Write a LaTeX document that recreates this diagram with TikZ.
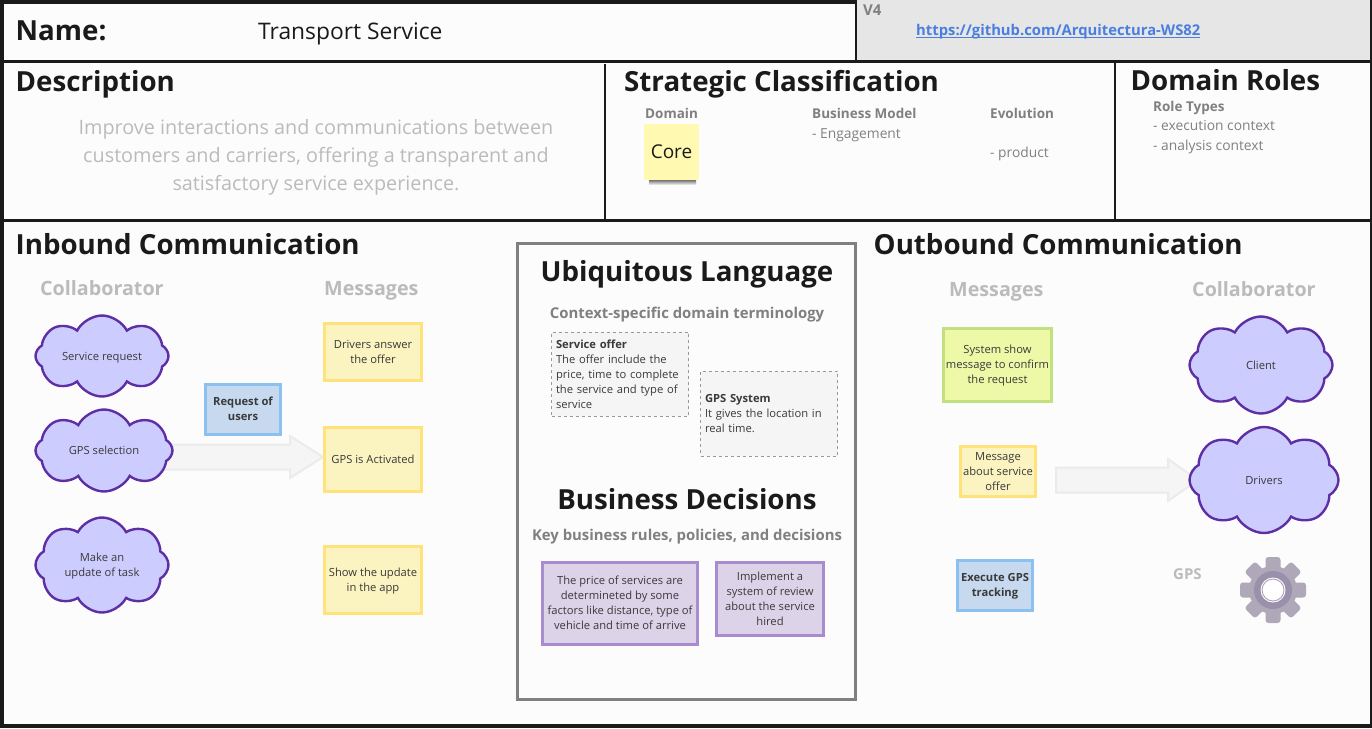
\documentclass[tikz,border=0pt]{standalone}
\usepackage{fontspec}
\setmainfont{Open Sans}
\usetikzlibrary{calc,shapes.symbols,backgrounds}
\definecolor{paper}{HTML}{FCFCFC}
\definecolor{ink}{HTML}{1A1A1A}
\definecolor{band}{HTML}{E6E6E6}
\definecolor{midgrey}{HTML}{808080}
\definecolor{softgrey}{HTML}{BBBBBB}
\definecolor{bodyink}{HTML}{3A3A3A}
\definecolor{cloudfill}{HTML}{CCCCFF}
\definecolor{cloudline}{HTML}{5E2EA5}
\definecolor{yellowfill}{HTML}{FBF3C0}
\definecolor{yellowline}{HTML}{FFE27A}
\definecolor{bluefill}{HTML}{C6D9EE}
\definecolor{blueline}{HTML}{8CC0EE}
\definecolor{greenfill}{HTML}{EEF9A8}
\definecolor{greenline}{HTML}{C3E07F}
\definecolor{violetfill}{HTML}{DDD3E8}
\definecolor{violetline}{HTML}{A98BD0}
\definecolor{notefill}{HTML}{F5F5F5}
\definecolor{noteline}{HTML}{999999}
\definecolor{stickycore}{HTML}{FFF9B1}
\definecolor{linkblue}{HTML}{4A7FE0}
\definecolor{arrowfill}{HTML}{F5F5F5}
\definecolor{arrowline}{HTML}{EBEBEB}
\definecolor{gearbody}{HTML}{AEA8B8}
\definecolor{gearring}{HTML}{9A90AB}
\newcommand{\up}{\rule{0pt}{11pt}}
\tikzset{
  title/.style={anchor=base west,inner sep=0pt,text=ink,font=\fontsize{27.7}{32}\selectfont\bfseries},
  titlemid/.style={title,anchor=base},
  subtitle/.style={anchor=base,inner sep=0pt,text=midgrey,font=\fontsize{14.9}{20}\selectfont\bfseries},
  column/.style={anchor=base west,inner sep=0pt,text=softgrey,font=\fontsize{19.7}{25}\selectfont\bfseries},
  small/.style={anchor=base west,inner sep=0pt,text=midgrey,font=\fontsize{13.5}{18}\selectfont\bfseries},
  plain/.style={anchor=base west,inner sep=0pt,text=midgrey,font=\fontsize{13.8}{18}\selectfont},
  evenlines/.style={execute at end node={\rule[-3pt]{0pt}{3pt}}},
  bubble/.style={cloud,cloud puffs=8,cloud puff arc=125,cloud ignores aspect,draw=cloudline,fill=cloudfill,line width=2.4pt,
    inner sep=0pt,text=bodyink,align=center,font=\fontsize{11.2}{15}\selectfont,evenlines},
  card/.style={rectangle,line width=3pt,inner sep=0pt,text=bodyink,align=center,font=\fontsize{11.2}{15}\selectfont,evenlines},
  msg/.style={card,draw=yellowline,fill=yellowfill},
  cmd/.style={card,draw=blueline,fill=bluefill,font=\fontsize{11.2}{15}\selectfont\bfseries},
  ok/.style={card,draw=greenline,fill=greenfill},
  rule/.style={card,draw=violetline,fill=violetfill},
  term/.style={rectangle,draw=noteline,fill=notefill,dashed,line width=1pt,inner sep=0pt,text=bodyink,
    align=left,font=\fontsize{11.2}{15}\selectfont,text width=128pt,evenlines},
  fatarrow/.style={draw=arrowline,fill=arrowfill,line width=2pt,
    to path={let \p1=(\tikztostart),\p2=(\tikztotarget) in
      (\x1,\y2-12.5pt) -- (\x2-#1,\y2-12.5pt) -- (\x2-#1,\y2-21pt) -- (\x2,\y2)
      -- (\x2-#1,\y2+21pt) -- (\x2-#1,\y2+12.5pt) -- (\x1,\y2+12.5pt) -- cycle}},
}
\pgfdeclarelayer{background}
\pgfsetlayers{background,main}
\begin{document}
\begin{tikzpicture}[x=1pt,y=-1pt]
\useasboundingbox (0,0) rectangle (1372,728);
\begin{pgfonlayer}{background}
\fill[paper] (0,0) rectangle (1372,728);
\end{pgfonlayer}
%% frame
\fill[band] (856,0) rectangle (1370,60);
\draw[ink,line width=4pt] (2,728) -- (2,2) -- (855,2);
\draw[ink,line width=4pt] (0,726) -- (1372,726);
\draw[ink,line width=2pt] (1371,0) -- (1371,728);
\draw[ink,line width=2pt] (856,0) -- (856,61);
\draw[ink,line width=3pt] (0,61) -- (1372,61);
\draw[ink,line width=3pt] (0,220) -- (1372,220);
\draw[ink,line width=2pt] (605,64) -- (605,221);
\draw[ink,line width=2pt] (1115,61) -- (1115,220);
%% top row
\node (name_label) at (15.5,40) [title] {Name:};
\node (name_value) at (258,39) [anchor=base west,inner sep=0pt,text=ink,font=\fontsize{22.8}{28}\selectfont] {Transport Service};
\node (version) at (863,15.5) [anchor=base west,inner sep=0pt,text=midgrey,font=\fontsize{15}{20}\selectfont\bfseries] {V4};
\node (link) at (916,35) [anchor=base west,inner sep=0pt,text=linkblue,font=\fontsize{14.8}{19}\selectfont\bfseries] {https://github.com/Arquitectura-WS82};
\draw[linkblue,line width=1pt] (916,37.5) -- (1200,37.5);
%% description
\node (description) at (15.5,91) [title] {Description};
\node (description_text) at (316,190.5) [anchor=base,inner sep=0pt,text=softgrey,align=center,font=\fontsize{19.8}{28}\selectfont]
  {Improve interactions and communications between\\customers and carriers, offering a transparent and\\satisfactory service experience.};
%% classification
\node (strategic) at (624,91) [title] {Strategic Classification};
\node (domain) at (645,118) [small] {Domain};
\shade[top color=black!55,bottom color=paper] (649,180) rectangle (696,185);
\node (core) at (671.5,152) [rectangle,fill=stickycore,minimum width=55pt,minimum height=56pt,inner sep=0pt,text=ink,font=\fontsize{19}{23}\selectfont] {Core};
\node (business_model) at (812,118) [small] {Business Model};
\node (engagement) at (812,138) [plain] {- Engagement};
\node (evolution) at (990,118) [small] {Evolution};
\node (product) at (990,157) [plain] {- product};
\node (domain_roles) at (1130.5,90) [title] {Domain Roles};
\node (role_types) at (1153,111) [small] {Role Types};
\node (execution) at (1153,130) [plain] {- execution context};
\node (analysis) at (1153,150) [plain] {- analysis context};
%% inbound
\node (inbound) at (15.5,254) [title] {Inbound Communication};
\node (in_collab) at (40,295) [column] {Collaborator};
\node (in_msgs) at (324,295) [column] {Messages};
\node (cloud_request) at (102,356) [bubble,minimum width=133pt,minimum height=81pt] {\up Service request};
\node (cloud_gps) at (104,450.5) [bubble,minimum width=137pt,minimum height=82pt] {\up GPS selection};
\node (cloud_update) at (102,565) [bubble,minimum width=133pt,minimum height=95pt] {\up Make an\\update of task};
\node (msg_answer) at (373,351.5) [msg,minimum width=97pt,minimum height=57pt] {\up Drivers answer\\the offer};
\node (msg_active) at (373,459) [msg,minimum width=97pt,minimum height=64pt] {\up GPS is Activated};
\node (msg_show) at (373,579.5) [msg,minimum width=97pt,minimum height=67pt] {\up Show the update\\in the app};
\node (cmd_request) at (243,409) [cmd,minimum width=75pt,minimum height=50pt] {\up Request of\\users};
%% centre
\draw[midgrey,fill=paper,line width=3pt] (517.5,243) rectangle (855.5,699);
\node (ubiquitous) at (687,281) [titlemid] {Ubiquitous Language};
\node (terminology) at (687,318) [subtitle] {Context-specific domain terminology};
\node (term_offer) at (620,374) [term,minimum width=137pt,minimum height=84pt]
  {\up{\bfseries Service offer}\\The offer include the\\price, time to complete\\the service and type of\\service};
\node (term_gps) at (769,413.5) [term,minimum width=137pt,minimum height=85pt]
  {\up{\bfseries GPS System}\\It gives the location in\\real time.};
\node (decisions) at (687,509) [titlemid] {Business Decisions};
\node (rules) at (687,540) [subtitle] {Key business rules, policies, and decisions};
\node (rule_price) at (620,603) [rule,minimum width=155pt,minimum height=82pt]
  {\up The price of services are\\determineted by some\\factors like distance, type of\\vehicle and time of arrive};
\node (rule_review) at (770,598.5) [rule,minimum width=107pt,minimum height=73pt]
  {\up Implement a\\system of review\\about the service\\hired};
%% outbound
\node (outbound) at (873.5,254) [title] {Outbound Communication};
\node (out_msgs) at (949,296) [column] {Messages};
\node (out_collab) at (1192,296) [column] {Collaborator};
\node (msg_confirm) at (997.5,364.5) [ok,minimum width=108pt,minimum height=73pt] {\up System show\\message to confirm\\the request};
\node (msg_offer) at (998,471) [msg,minimum width=75pt,minimum height=50pt] {\up Message\\about service\\offer};
\node (cmd_tracking) at (995,585) [cmd,minimum width=75pt,minimum height=50pt] {\up Execute GPS\\tracking};
\node (cloud_client) at (1261,365) [bubble,minimum width=143pt,minimum height=97pt] {\up Client};
\node (cloud_drivers) at (1264,480) [bubble,minimum width=149pt,minimum height=106pt] {\up Drivers};
\node (gps_label) at (1173,579) [anchor=base west,inner sep=0pt,text=softgrey,font=\fontsize{15}{20}\selectfont\bfseries] {GPS};
%% gear
\foreach \a in {0,45,...,315}
  \fill[gearbody,rounded corners=3pt,rotate around={\a:(1273,590)}] (1265.5,557) rectangle (1280.5,575);
\fill[gearbody] (1273,590) circle (24);
\fill[gearring] (1273,590) circle (19);
\fill[white] (1273,590) circle (12.5);
\draw[gearbody,line width=1pt] (1273,590) circle (11);
%% connectors under the clouds
\coordinate (active_in) at (323,457);
\coordinate (offer_out) at (1056,480);
\coordinate (drivers_in) at (1198,480);
\begin{pgfonlayer}{background}
\draw[fatarrow=33pt] (cloud_gps) to (active_in);
\draw[fatarrow=30pt] (offer_out) to (drivers_in);
\end{pgfonlayer}
%
\end{tikzpicture}
\end{document}
